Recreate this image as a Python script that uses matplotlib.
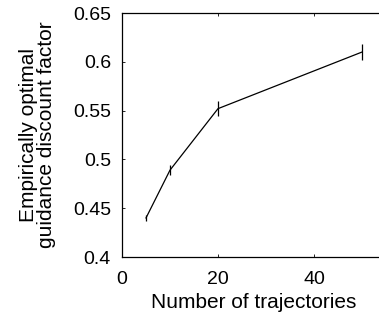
import numpy as np
import matplotlib
matplotlib.use("Agg")
import matplotlib.pyplot as plt

plt.rcParams["font.family"] = ["Liberation Sans", "DejaVu Sans"]

# 数据
n_traj = [5, 10, 20, 50]
discount = [0.440, 0.489, 0.552, 0.610]
err = [0.0035, 0.005, 0.0075, 0.0085]

fig = plt.figure(figsize=(3.79, 3.18), dpi=100)
ax = fig.add_axes([122 / 379, 1 - 257 / 318, 264 / 379, 244 / 318])

ax.errorbar(n_traj, discount, yerr=err, color="black", linewidth=0.9,
            elinewidth=0.9, capsize=0)

ax.set_xlim(0, 55)
ax.set_ylim(0.4, 0.65)
ax.set_xticks([0, 20, 40])
ax.set_yticks([0.4, 0.45, 0.5, 0.55, 0.6, 0.65])
ax.set_yticklabels(["0.4", "0.45", "0.5", "0.55", "0.6", "0.65"])
ax.tick_params(direction="in", length=2.5, width=0.6, labelsize=14,
               top=True, right=False)
ax.tick_params(axis="y", pad=8)
ax.tick_params(axis="x", pad=10)
ax.spines["right"].set_visible(False)
for sp in ax.spines.values():
    sp.set_linewidth(0.9)

ax.set_xlabel("Number of trajectories", fontsize=15, labelpad=4)
ax.set_ylabel("Empirically optimal\nguidance discount factor", fontsize=15,
              labelpad=12, linespacing=0.95)

fig.savefig("out.png", dpi=100)
